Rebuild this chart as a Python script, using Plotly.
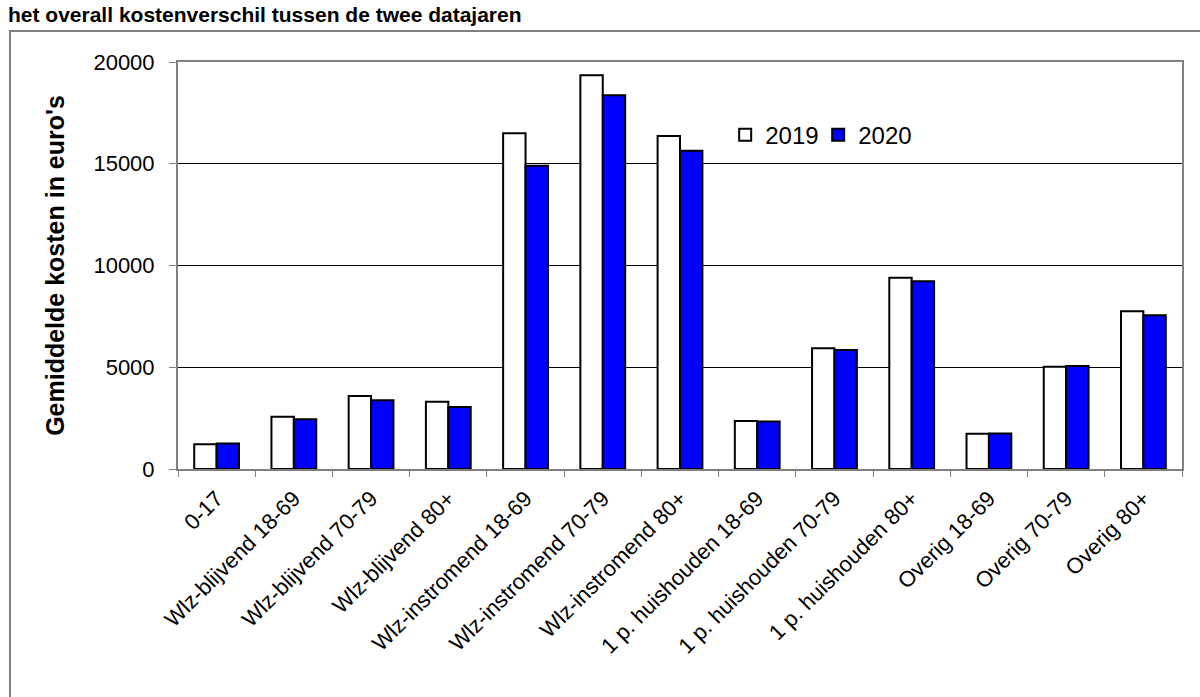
import plotly.graph_objects as go

categories = ["0-17", "Wlz-blijvend 18-69", "Wlz-blijvend 70-79", "Wlz-blijvend 80+",
              "Wlz-instromend 18-69", "Wlz-instromend 70-79", "Wlz-instromend 80+",
              "1 p. huishouden 18-69", "1 p. huishouden 70-79", "1 p. huishouden 80+",
              "Overig 18-69", "Overig 70-79", "Overig 80+"]
values_2019 = [1220, 2570, 3590, 3310, 16500, 19350, 16360, 2360, 5930, 9400, 1735, 5030, 7750]
values_2020 = [1250, 2440, 3375, 3050, 14900, 18360, 15640, 2340, 5850, 9220, 1740, 5060, 7550]
y_ticks = [0, 5000, 10000, 15000, 20000]
y_tick_labels = ["0", "5000", "10000", "15000", "20000"]

FONT = "Arial, Liberation Sans, sans-serif"

fig = go.Figure()
fig.add_trace(go.Bar(name="2019", x=categories, y=values_2019,
                     marker=dict(color="white", line=dict(color="black", width=2))))
fig.add_trace(go.Bar(name="2020", x=categories, y=values_2020,
                     marker=dict(color="#0000FF", line=dict(color="black", width=2))))

fig.update_layout(
    width=1200, height=697,
    margin=dict(l=178, r=18, t=62, b=228),
    paper_bgcolor="white", plot_bgcolor="white",
    barmode="group", bargap=0.42, bargroupgap=0,
    font=dict(family=FONT, color="black"),
    showlegend=True,
    legend=dict(orientation="h", x=0.545, y=0.82, xanchor="left", yanchor="middle",
                font=dict(size=24, family=FONT), bgcolor="rgba(0,0,0,0)",
                itemwidth=30, traceorder="normal",
                entrywidth=48, entrywidthmode="pixels"),
    xaxis=dict(tickangle=-45, tickfont=dict(size=22, family=FONT), showgrid=False,
               ticks="outside", ticklen=6, tickcolor="#808080", tickson="boundaries",
               ticklabelstandoff=6,
               showline=True, linecolor="#808080", linewidth=2, mirror=True),
    yaxis=dict(range=[0, 20000], tickvals=y_ticks, ticktext=y_tick_labels,
               tickfont=dict(size=22, family=FONT),
               ticks="outside", ticklen=7, tickcolor="#808080", ticklabelstandoff=10,
               showgrid=True, gridcolor="black", gridwidth=1,
               showline=True, linecolor="#808080", linewidth=2, mirror=True,
               zeroline=False,
               title=dict(text="<b>Gemiddelde kosten in euro's</b>", font=dict(size=25, family=FONT),
                          standoff=22)),
)

# outer chart frame (extends beyond the visible window)
fig.add_shape(type="rect", xref="paper", yref="paper",
              x0=-168 / 1004, x1=1.1, y0=-0.8, y1=(469 - 31) / 407,
              line=dict(color="#808080", width=2), fillcolor="rgba(0,0,0,0)", layer="below")

# title at the very top
fig.add_annotation(text="<b>het overall kostenverschil tussen de twee datajaren</b>",
                   xref="paper", yref="paper", x=-172 / 1004, y=(469 - 1) / 407,
                   xanchor="left", yanchor="top", showarrow=False,
                   font=dict(size=21, family=FONT, color="black"))

fig.write_html("out.html")
